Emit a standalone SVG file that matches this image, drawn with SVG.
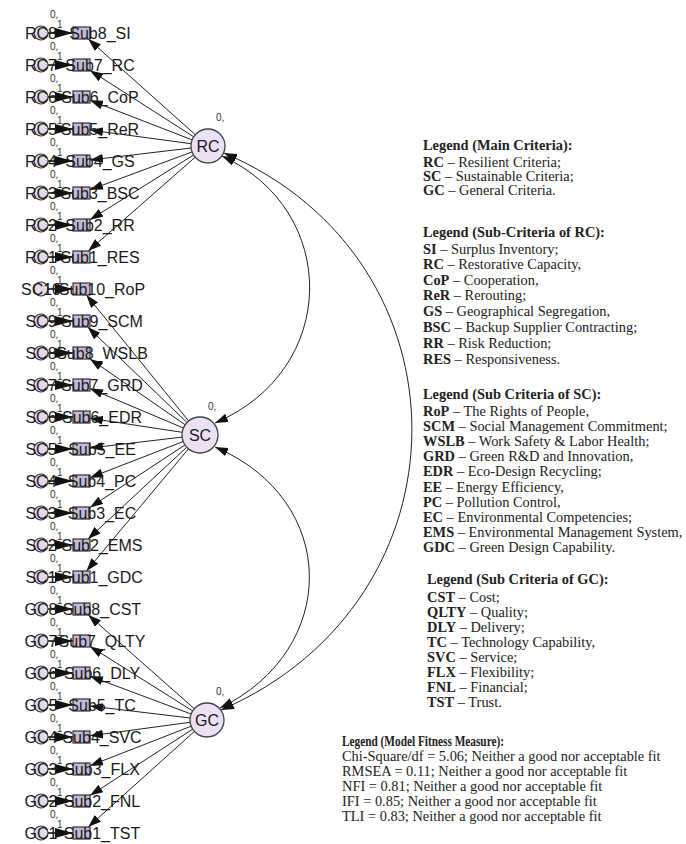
<svg xmlns="http://www.w3.org/2000/svg" width="686" height="844" viewBox="0 0 686 844">
<style>
.lbl{font-family:"Liberation Sans",Arial,sans-serif;font-size:16px;fill:#1a1a1a;text-anchor:middle}
.sm{font-family:"Liberation Sans",Arial,sans-serif;font-size:10px;fill:#333}
.lat{fill:#ece0f4;stroke:#444;stroke-width:1.3}
.err{fill:#e4d8ee;stroke:#333;stroke-width:1.2}
.box{fill:#c6b9d8;stroke:#333;stroke-width:1.2}
.ln{stroke:#222;stroke-width:1;fill:none}
.eln{stroke:#111;stroke-width:1.6;fill:none}
.lg{font-family:"Liberation Serif","Times New Roman",serif;font-size:14.4px;fill:#222}
.b{font-weight:bold}
</style>
<defs>
<marker id="ah" markerUnits="userSpaceOnUse" markerWidth="13" markerHeight="9" refX="13" refY="4.5" orient="auto-start-reverse" viewBox="0 0 13 9">
<path d="M0,0 L13,4.5 L0,9 z" fill="#111"/>
</marker>
<marker id="ahb" markerUnits="userSpaceOnUse" markerWidth="18" markerHeight="10" refX="18" refY="5" orient="auto" viewBox="0 0 18 10">
<path d="M0,0 L18,5 L0,10 z" fill="#111"/>
</marker>
</defs>
<g id="connectors">
<g id="load-rc">
<line class="ln" x1="195.3" y1="134.7" x2="88.2" y2="39" marker-end="url(#ah)"/>
<line class="ln" x1="193.7" y1="136.8" x2="90" y2="70.4" marker-end="url(#ah)"/>
<line class="ln" x1="192.2" y1="139.9" x2="90" y2="100.3" marker-end="url(#ah)"/>
<line class="ln" x1="191.1" y1="143.7" x2="90" y2="130.1" marker-end="url(#ah)"/>
<line class="ln" x1="191.1" y1="148" x2="90" y2="160" marker-end="url(#ah)"/>
<line class="ln" x1="192.1" y1="151.9" x2="90" y2="189.8" marker-end="url(#ah)"/>
<line class="ln" x1="193.6" y1="155" x2="90" y2="219.7" marker-end="url(#ah)"/>
<line class="ln" x1="195.2" y1="157.2" x2="88.3" y2="251" marker-end="url(#ah)"/>
</g>
<g id="load-sc">
<line class="ln" x1="188.7" y1="421" x2="86.4" y2="295" marker-end="url(#ah)"/>
<line class="ln" x1="187" y1="422.5" x2="87.7" y2="327" marker-end="url(#ah)"/>
<line class="ln" x1="185.2" y1="424.8" x2="90" y2="358.9" marker-end="url(#ah)"/>
<line class="ln" x1="183.4" y1="428" x2="90" y2="388.6" marker-end="url(#ah)"/>
<line class="ln" x1="182.2" y1="432.3" x2="90" y2="418.3" marker-end="url(#ah)"/>
<line class="ln" x1="182.1" y1="437.1" x2="90" y2="448" marker-end="url(#ah)"/>
<line class="ln" x1="183.2" y1="441.5" x2="90" y2="477.7" marker-end="url(#ah)"/>
<line class="ln" x1="185" y1="444.9" x2="90" y2="507.4" marker-end="url(#ah)"/>
<line class="ln" x1="186.8" y1="447.2" x2="88" y2="539" marker-end="url(#ah)"/>
<line class="ln" x1="188.5" y1="448.8" x2="86.5" y2="571" marker-end="url(#ah)"/>
</g>
<g id="load-gc">
<line class="ln" x1="194.3" y1="708.7" x2="88.3" y2="615" marker-end="url(#ah)"/>
<line class="ln" x1="192.6" y1="710.9" x2="90" y2="646.4" marker-end="url(#ah)"/>
<line class="ln" x1="191.1" y1="714" x2="90" y2="676.2" marker-end="url(#ah)"/>
<line class="ln" x1="190.1" y1="718" x2="90" y2="706" marker-end="url(#ah)"/>
<line class="ln" x1="190.1" y1="722.3" x2="90" y2="735.8" marker-end="url(#ah)"/>
<line class="ln" x1="191.2" y1="726.2" x2="90" y2="765.7" marker-end="url(#ah)"/>
<line class="ln" x1="192.7" y1="729.2" x2="90" y2="795.5" marker-end="url(#ah)"/>
<line class="ln" x1="194.4" y1="731.4" x2="88.2" y2="827" marker-end="url(#ah)"/>
</g>
<g id="err-paths">
<line class="eln" x1="48" y1="33" x2="73" y2="33" marker-end="url(#ahb)"/>
<line class="eln" x1="48" y1="65" x2="73" y2="65" marker-end="url(#ahb)"/>
<line class="eln" x1="48" y1="97" x2="73" y2="97" marker-end="url(#ahb)"/>
<line class="eln" x1="48" y1="129" x2="73" y2="129" marker-end="url(#ahb)"/>
<line class="eln" x1="48" y1="161" x2="73" y2="161" marker-end="url(#ahb)"/>
<line class="eln" x1="48" y1="193" x2="73" y2="193" marker-end="url(#ahb)"/>
<line class="eln" x1="48" y1="225" x2="73" y2="225" marker-end="url(#ahb)"/>
<line class="eln" x1="48" y1="257" x2="73" y2="257" marker-end="url(#ahb)"/>
<line class="eln" x1="48" y1="289" x2="73" y2="289" marker-end="url(#ahb)"/>
<line class="eln" x1="48" y1="321" x2="73" y2="321" marker-end="url(#ahb)"/>
<line class="eln" x1="48" y1="353" x2="73" y2="353" marker-end="url(#ahb)"/>
<line class="eln" x1="48" y1="385" x2="73" y2="385" marker-end="url(#ahb)"/>
<line class="eln" x1="48" y1="417" x2="73" y2="417" marker-end="url(#ahb)"/>
<line class="eln" x1="48" y1="449" x2="73" y2="449" marker-end="url(#ahb)"/>
<line class="eln" x1="48" y1="481" x2="73" y2="481" marker-end="url(#ahb)"/>
<line class="eln" x1="48" y1="513" x2="73" y2="513" marker-end="url(#ahb)"/>
<line class="eln" x1="48" y1="545" x2="73" y2="545" marker-end="url(#ahb)"/>
<line class="eln" x1="48" y1="577" x2="73" y2="577" marker-end="url(#ahb)"/>
<line class="eln" x1="48" y1="609" x2="73" y2="609" marker-end="url(#ahb)"/>
<line class="eln" x1="48" y1="641" x2="73" y2="641" marker-end="url(#ahb)"/>
<line class="eln" x1="48" y1="673" x2="73" y2="673" marker-end="url(#ahb)"/>
<line class="eln" x1="48" y1="705" x2="73" y2="705" marker-end="url(#ahb)"/>
<line class="eln" x1="48" y1="737" x2="73" y2="737" marker-end="url(#ahb)"/>
<line class="eln" x1="48" y1="769" x2="73" y2="769" marker-end="url(#ahb)"/>
<line class="eln" x1="48" y1="801" x2="73" y2="801" marker-end="url(#ahb)"/>
<line class="eln" x1="48" y1="833" x2="73" y2="833" marker-end="url(#ahb)"/>
</g>
<g id="covariances">
<path class="ln" d="M222,156 C340,210 340,370 215,423" marker-start="url(#ah)" marker-end="url(#ah)"/>
<path class="ln" d="M224,153 C475,260 475,600 221,710" marker-start="url(#ah)" marker-end="url(#ah)"/>
<path class="ln" d="M215,447 C340,500 340,650 220,708" marker-start="url(#ah)" marker-end="url(#ah)"/>
</g>
</g>
<g id="latent">
<g id="RC"><circle class="lat" cx="208" cy="146" r="17"/><text class="lbl" x="208" y="152">RC</text><text class="sm" x="216" y="121">0,</text></g>
<g id="SC"><circle class="lat" cx="200" cy="435" r="18"/><text class="lbl" x="200" y="441">SC</text><text class="sm" x="208" y="410">0,</text></g>
<g id="GC"><circle class="lat" cx="207" cy="720" r="17"/><text class="lbl" x="207" y="726">GC</text><text class="sm" x="216" y="695">0,</text></g>
</g>
<g id="errors">
<g id="e-RC8"><circle class="err" cx="41" cy="33" r="7"/><text class="lbl" x="41" y="38.5">RC8</text><text class="sm" x="50" y="18">0,</text><text class="sm" x="57" y="28">1</text></g>
<g id="e-RC7"><circle class="err" cx="41" cy="65" r="7"/><text class="lbl" x="41" y="70.5">RC7</text><text class="sm" x="50" y="50">0,</text><text class="sm" x="57" y="60">1</text></g>
<g id="e-RC6"><circle class="err" cx="41" cy="97" r="7"/><text class="lbl" x="41" y="102.5">RC6</text><text class="sm" x="50" y="82">0,</text><text class="sm" x="57" y="92">1</text></g>
<g id="e-RC5"><circle class="err" cx="41" cy="129" r="7"/><text class="lbl" x="41" y="134.5">RC5</text><text class="sm" x="50" y="114">0,</text><text class="sm" x="57" y="124">1</text></g>
<g id="e-RC4"><circle class="err" cx="41" cy="161" r="7"/><text class="lbl" x="41" y="166.5">RC4</text><text class="sm" x="50" y="146">0,</text><text class="sm" x="57" y="156">1</text></g>
<g id="e-RC3"><circle class="err" cx="41" cy="193" r="7"/><text class="lbl" x="41" y="198.5">RC3</text><text class="sm" x="50" y="178">0,</text><text class="sm" x="57" y="188">1</text></g>
<g id="e-RC2"><circle class="err" cx="41" cy="225" r="7"/><text class="lbl" x="41" y="230.5">RC2</text><text class="sm" x="50" y="210">0,</text><text class="sm" x="57" y="220">1</text></g>
<g id="e-RC1"><circle class="err" cx="41" cy="257" r="7"/><text class="lbl" x="41" y="262.5">RC1</text><text class="sm" x="50" y="242">0,</text><text class="sm" x="57" y="252">1</text></g>
<g id="e-SC10"><circle class="err" cx="41" cy="289" r="7"/><text class="lbl" x="41" y="294.5">SC10</text><text class="sm" x="50" y="274">0,</text><text class="sm" x="57" y="284">1</text></g>
<g id="e-SC9"><circle class="err" cx="41" cy="321" r="7"/><text class="lbl" x="41" y="326.5">SC9</text><text class="sm" x="50" y="306">0,</text><text class="sm" x="57" y="316">1</text></g>
<g id="e-SC8"><circle class="err" cx="41" cy="353" r="7"/><text class="lbl" x="41" y="358.5">SC8</text><text class="sm" x="50" y="338">0,</text><text class="sm" x="57" y="348">1</text></g>
<g id="e-SC7"><circle class="err" cx="41" cy="385" r="7"/><text class="lbl" x="41" y="390.5">SC7</text><text class="sm" x="50" y="370">0,</text><text class="sm" x="57" y="380">1</text></g>
<g id="e-SC6"><circle class="err" cx="41" cy="417" r="7"/><text class="lbl" x="41" y="422.5">SC6</text><text class="sm" x="50" y="402">0,</text><text class="sm" x="57" y="412">1</text></g>
<g id="e-SC5"><circle class="err" cx="41" cy="449" r="7"/><text class="lbl" x="41" y="454.5">SC5</text><text class="sm" x="50" y="434">0,</text><text class="sm" x="57" y="444">1</text></g>
<g id="e-SC4"><circle class="err" cx="41" cy="481" r="7"/><text class="lbl" x="41" y="486.5">SC4</text><text class="sm" x="50" y="466">0,</text><text class="sm" x="57" y="476">1</text></g>
<g id="e-SC3"><circle class="err" cx="41" cy="513" r="7"/><text class="lbl" x="41" y="518.5">SC3</text><text class="sm" x="50" y="498">0,</text><text class="sm" x="57" y="508">1</text></g>
<g id="e-SC2"><circle class="err" cx="41" cy="545" r="7"/><text class="lbl" x="41" y="550.5">SC2</text><text class="sm" x="50" y="530">0,</text><text class="sm" x="57" y="540">1</text></g>
<g id="e-SC1"><circle class="err" cx="41" cy="577" r="7"/><text class="lbl" x="41" y="582.5">SC1</text><text class="sm" x="50" y="562">0,</text><text class="sm" x="57" y="572">1</text></g>
<g id="e-GC8"><circle class="err" cx="41" cy="609" r="7"/><text class="lbl" x="41" y="614.5">GC8</text><text class="sm" x="50" y="594">0,</text><text class="sm" x="57" y="604">1</text></g>
<g id="e-GC7"><circle class="err" cx="41" cy="641" r="7"/><text class="lbl" x="41" y="646.5">GC7</text><text class="sm" x="50" y="626">0,</text><text class="sm" x="57" y="636">1</text></g>
<g id="e-GC6"><circle class="err" cx="41" cy="673" r="7"/><text class="lbl" x="41" y="678.5">GC6</text><text class="sm" x="50" y="658">0,</text><text class="sm" x="57" y="668">1</text></g>
<g id="e-GC5"><circle class="err" cx="41" cy="705" r="7"/><text class="lbl" x="41" y="710.5">GC5</text><text class="sm" x="50" y="690">0,</text><text class="sm" x="57" y="700">1</text></g>
<g id="e-GC4"><circle class="err" cx="41" cy="737" r="7"/><text class="lbl" x="41" y="742.5">GC4</text><text class="sm" x="50" y="722">0,</text><text class="sm" x="57" y="732">1</text></g>
<g id="e-GC3"><circle class="err" cx="41" cy="769" r="7"/><text class="lbl" x="41" y="774.5">GC3</text><text class="sm" x="50" y="754">0,</text><text class="sm" x="57" y="764">1</text></g>
<g id="e-GC2"><circle class="err" cx="41" cy="801" r="7"/><text class="lbl" x="41" y="806.5">GC2</text><text class="sm" x="50" y="786">0,</text><text class="sm" x="57" y="796">1</text></g>
<g id="e-GC1"><circle class="err" cx="41" cy="833" r="7"/><text class="lbl" x="41" y="838.5">GC1</text><text class="sm" x="50" y="818">0,</text><text class="sm" x="57" y="828">1</text></g>
</g>
<g id="observed">
<g id="o-SI"><rect class="box" x="73" y="27" width="17" height="12"/><text class="lbl" x="100" y="38.5">Sub8_SI</text></g>
<g id="o-RC"><rect class="box" x="73" y="59" width="17" height="12"/><text class="lbl" x="100" y="70.5">Sub7_RC</text></g>
<g id="o-CoP"><rect class="box" x="73" y="91" width="17" height="12"/><text class="lbl" x="100" y="102.5">Sub6_CoP</text></g>
<g id="o-ReR"><rect class="box" x="73" y="123" width="17" height="12"/><text class="lbl" x="100" y="134.5">Sub5_ReR</text></g>
<g id="o-GS"><rect class="box" x="73" y="155" width="17" height="12"/><text class="lbl" x="100" y="166.5">Sub4_GS</text></g>
<g id="o-BSC"><rect class="box" x="73" y="187" width="17" height="12"/><text class="lbl" x="100" y="198.5">Sub3_BSC</text></g>
<g id="o-RR"><rect class="box" x="73" y="219" width="17" height="12"/><text class="lbl" x="100" y="230.5">Sub2_RR</text></g>
<g id="o-RES"><rect class="box" x="73" y="251" width="17" height="12"/><text class="lbl" x="100" y="262.5">Sub1_RES</text></g>
<g id="o-RoP"><rect class="box" x="73" y="283" width="17" height="12"/><text class="lbl" x="102" y="294.5">Sub10_RoP</text></g>
<g id="o-SCM"><rect class="box" x="73" y="315" width="17" height="12"/><text class="lbl" x="102" y="326.5">Sub9_SCM</text></g>
<g id="o-WSLB"><rect class="box" x="73" y="347" width="17" height="12"/><text class="lbl" x="102" y="358.5">Sub8_WSLB</text></g>
<g id="o-GRD"><rect class="box" x="73" y="379" width="17" height="12"/><text class="lbl" x="102" y="390.5">Sub7_GRD</text></g>
<g id="o-EDR"><rect class="box" x="73" y="411" width="17" height="12"/><text class="lbl" x="102" y="422.5">Sub6_EDR</text></g>
<g id="o-EE"><rect class="box" x="73" y="443" width="17" height="12"/><text class="lbl" x="102" y="454.5">Sub5_EE</text></g>
<g id="o-PC"><rect class="box" x="73" y="475" width="17" height="12"/><text class="lbl" x="102" y="486.5">Sub4_PC</text></g>
<g id="o-EC"><rect class="box" x="73" y="507" width="17" height="12"/><text class="lbl" x="102" y="518.5">Sub3_EC</text></g>
<g id="o-EMS"><rect class="box" x="73" y="539" width="17" height="12"/><text class="lbl" x="102" y="550.5">Sub2_EMS</text></g>
<g id="o-GDC"><rect class="box" x="73" y="571" width="17" height="12"/><text class="lbl" x="102" y="582.5">Sub1_GDC</text></g>
<g id="o-CST"><rect class="box" x="73" y="603" width="17" height="12"/><text class="lbl" x="102" y="614.5">Sub8_CST</text></g>
<g id="o-QLTY"><rect class="box" x="73" y="635" width="17" height="12"/><text class="lbl" x="102" y="646.5">Sub7_QLTY</text></g>
<g id="o-DLY"><rect class="box" x="73" y="667" width="17" height="12"/><text class="lbl" x="102" y="678.5">Sub6_DLY</text></g>
<g id="o-TC"><rect class="box" x="73" y="699" width="17" height="12"/><text class="lbl" x="102" y="710.5">Sub5_TC</text></g>
<g id="o-SVC"><rect class="box" x="73" y="731" width="17" height="12"/><text class="lbl" x="102" y="742.5">Sub4_SVC</text></g>
<g id="o-FLX"><rect class="box" x="73" y="763" width="17" height="12"/><text class="lbl" x="102" y="774.5">Sub3_FLX</text></g>
<g id="o-FNL"><rect class="box" x="73" y="795" width="17" height="12"/><text class="lbl" x="102" y="806.5">Sub2_FNL</text></g>
<g id="o-TST"><rect class="box" x="73" y="827" width="17" height="12"/><text class="lbl" x="102" y="838.5">Sub1_TST</text></g>
</g>
<g id="legend" class="lg">
<text x="423" y="150" class="b">Legend (Main Criteria):</text>
<text x="423" y="167"><tspan class="b">RC</tspan> – Resilient Criteria;</text>
<text x="423" y="181"><tspan class="b">SC</tspan> – Sustainable Criteria;</text>
<text x="423" y="195"><tspan class="b">GC</tspan> – General Criteria.</text>
<text x="423" y="237" class="b">Legend (Sub-Criteria of RC):</text>
<text x="423" y="254"><tspan class="b">SI</tspan> – Surplus Inventory;</text>
<text x="423" y="269"><tspan class="b">RC</tspan> – Restorative Capacity,</text>
<text x="423" y="285"><tspan class="b">CoP</tspan> – Cooperation,</text>
<text x="423" y="300"><tspan class="b">ReR</tspan> – Rerouting;</text>
<text x="423" y="316"><tspan class="b">GS</tspan> – Geographical Segregation,</text>
<text x="423" y="332"><tspan class="b">BSC</tspan> – Backup Supplier Contracting;</text>
<text x="423" y="348"><tspan class="b">RR</tspan> – Risk Reduction;</text>
<text x="423" y="364"><tspan class="b">RES</tspan> – Responsiveness.</text>
<text x="423" y="399" class="b">Legend (Sub Criteria of SC):</text>
<text x="423" y="416"><tspan class="b">RoP</tspan> – The Rights of People,</text>
<text x="423" y="431"><tspan class="b">SCM</tspan> – Social Management Commitment;</text>
<text x="423" y="446"><tspan class="b">WSLB</tspan> – Work Safety &amp; Labor Health;</text>
<text x="423" y="461"><tspan class="b">GRD</tspan> – Green R&amp;D and Innovation,</text>
<text x="423" y="476"><tspan class="b">EDR</tspan> – Eco-Design Recycling;</text>
<text x="423" y="492"><tspan class="b">EE</tspan> – Energy Efficiency,</text>
<text x="423" y="507"><tspan class="b">PC</tspan> – Pollution Control,</text>
<text x="423" y="522"><tspan class="b">EC</tspan> – Environmental Competencies;</text>
<text x="423" y="537"><tspan class="b">EMS</tspan> – Environmental Management System,</text>
<text x="423" y="552"><tspan class="b">GDC</tspan> – Green Design Capability.</text>
<text x="427" y="584" class="b">Legend (Sub Criteria of GC):</text>
<text x="427" y="602"><tspan class="b">CST</tspan> – Cost;</text>
<text x="427" y="617"><tspan class="b">QLTY</tspan> – Quality;</text>
<text x="427" y="632"><tspan class="b">DLY</tspan> – Delivery;</text>
<text x="427" y="647"><tspan class="b">TC</tspan> – Technology Capability,</text>
<text x="427" y="662"><tspan class="b">SVC</tspan> – Service;</text>
<text x="427" y="677"><tspan class="b">FLX</tspan> – Flexibility;</text>
<text x="427" y="692"><tspan class="b">FNL</tspan> – Financial;</text>
<text x="427" y="707"><tspan class="b">TST</tspan> – Trust.</text>
<text x="342" y="746" class="b" textLength="162" lengthAdjust="spacingAndGlyphs">Legend (Model Fitness Measure):</text>
<text x="342" y="761">Chi-Square/df = 5.06; Neither a good nor acceptable fit</text>
<text x="342" y="776">RMSEA = 0.11; Neither a good nor acceptable fit</text>
<text x="342" y="791">NFI = 0.81; Neither a good nor acceptable fit</text>
<text x="342" y="806">IFI = 0.85; Neither a good nor acceptable fit</text>
<text x="342" y="821">TLI = 0.83; Neither a good nor acceptable fit</text>
</g>
</svg>
